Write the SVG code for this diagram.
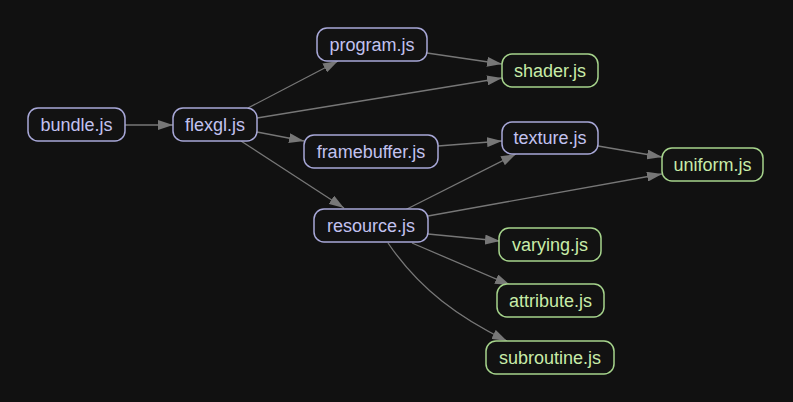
<svg xmlns="http://www.w3.org/2000/svg" width="793" height="402" viewBox="0 0 793 402">
<defs>
<style>
.n rect{fill:#121212;stroke:#a8a8d8;stroke-width:1.5}
.n text{fill:#c2c2f0;font-family:"Liberation Sans",Arial,sans-serif;font-size:18px;text-anchor:middle}
.g rect{stroke:#a6d48c}
.g text{fill:#c8eca8}
#edges path{fill:none;stroke:#777;stroke-width:1.3;marker-end:url(#ah)}
</style>
<marker id="ah" markerUnits="userSpaceOnUse" markerWidth="15" markerHeight="10" refX="15" refY="5" orient="auto" viewBox="0 0 15 10">
<path d="M0,0 L15,5 L0,10 z" fill="#777"/>
</marker>
</defs>
<rect width="793" height="402" fill="#111"/>
<g id="edges">
<path d="M125,125 L173,125"/>
<path d="M248,108 L338,61"/>
<path d="M257,118 L502,78"/>
<path d="M257,132 L304,141"/>
<path d="M241,141 L344,208"/>
<path d="M427,53 L502,64"/>
<path d="M438,146 L502,141"/>
<path d="M598,146 L662,157"/>
<path d="M405,210 L516,154"/>
<path d="M428,216 L662,174"/>
<path d="M428,234 L500,241"/>
<path d="M412,243 L510,285"/>
<path d="M388,243 C420,290 460,318 507,341"/>
</g>
<g id="bundle" class="n"><rect x="28" y="108" width="97" height="33" rx="10"/><text x="76.5" y="131">bundle.js</text></g>
<g id="flexgl" class="n"><rect x="173" y="108" width="84" height="33" rx="10"/><text x="215" y="131">flexgl.js</text></g>
<g id="program" class="n"><rect x="317" y="28" width="110" height="33" rx="10"/><text x="372" y="51">program.js</text></g>
<g id="shader" class="n g"><rect x="502" y="54" width="96" height="33" rx="10"/><text x="550" y="77">shader.js</text></g>
<g id="texture" class="n"><rect x="502" y="122" width="96" height="32" rx="10"/><text x="550" y="144">texture.js</text></g>
<g id="framebuffer" class="n"><rect x="304" y="135" width="134" height="33" rx="10"/><text x="371" y="158">framebuffer.js</text></g>
<g id="uniform" class="n g"><rect x="662" y="148" width="101" height="33" rx="10"/><text x="712.5" y="171">uniform.js</text></g>
<g id="resource" class="n"><rect x="314" y="209" width="114" height="33" rx="10"/><text x="371" y="232">resource.js</text></g>
<g id="varying" class="n g"><rect x="499" y="228" width="102" height="33" rx="10"/><text x="550" y="251">varying.js</text></g>
<g id="attribute" class="n g"><rect x="497" y="284" width="107" height="33" rx="10"/><text x="550.5" y="307">attribute.js</text></g>
<g id="subroutine" class="n g"><rect x="486" y="341" width="128" height="33" rx="10"/><text x="550" y="364">subroutine.js</text></g>
</svg>
